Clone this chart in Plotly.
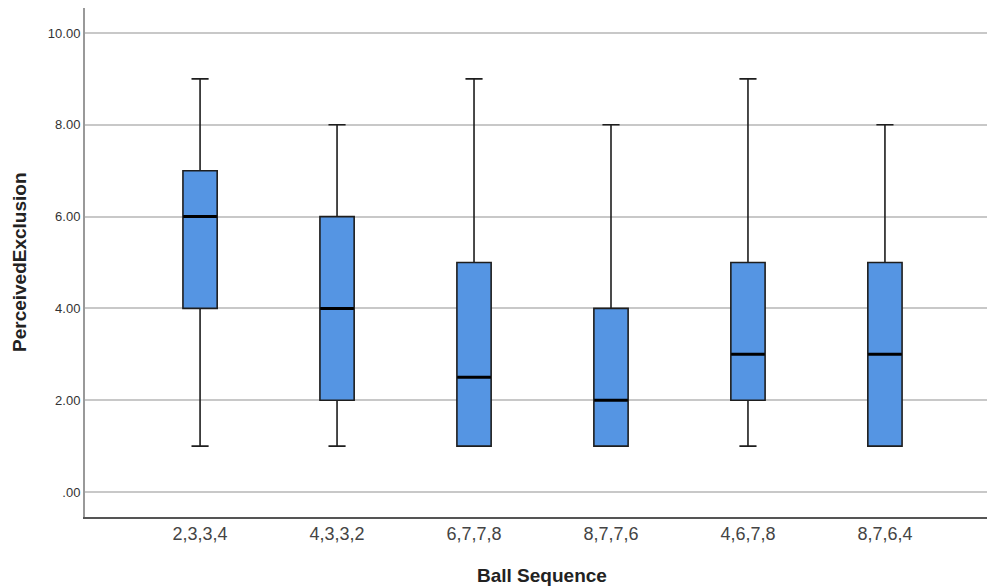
import plotly.graph_objects as go

categories = ["2,3,3,4", "4,3,3,2", "6,7,7,8", "8,7,7,6", "4,6,7,8", "8,7,6,4"]
mins = [1, 1, 1, 1, 1, 1]
q1s = [4, 2, 1, 1, 2, 1]
medians = [6, 4, 2.5, 2, 3, 3]
q3s = [7, 6, 5, 4, 5, 5]
maxs = [9, 8, 9, 8, 9, 8]
ytick_vals = [0, 2, 4, 6, 8, 10]
ytick_text = [".00", "2.00", "4.00", "6.00", "8.00", "10.00"]

fig = go.Figure()
fig.add_trace(go.Box(
    x=categories, q1=q1s, median=medians, q3=q3s,
    lowerfence=mins, upperfence=maxs,
    fillcolor="#5595e3", line=dict(color="#1e1e1e", width=1.6),
    width=0.25, whiskerwidth=0.5, boxpoints=False, showlegend=False,
    hoverinfo="skip",
))
fig.add_trace(go.Scatter(
    x=categories, y=medians, mode="markers",
    marker=dict(symbol="line-ew", size=24, line=dict(color="#000000", width=3)),
    showlegend=False, hoverinfo="skip",
))

fig.update_layout(
    width=987, height=586,
    margin=dict(l=85, r=0, t=8, b=69),
    plot_bgcolor="white", paper_bgcolor="white",
    font=dict(family="Liberation Sans, Arial, sans-serif", color="#333333"),
    xaxis=dict(
        range=[-0.84, 5.745], showgrid=False, showline=True,
        linecolor="#555555", linewidth=1.5, ticks="",
        tickfont=dict(size=18, color="#444444"), zeroline=False,
    ),
    yaxis=dict(
        range=[-0.545, 10.545], tickvals=ytick_vals, ticktext=ytick_text,
        showgrid=True, gridcolor="#c8c8c8", gridwidth=1.5,
        showline=True, linecolor="#999999", linewidth=2, ticks="",
        tickfont=dict(size=13, color="#333333"), zeroline=False,
    ),
    annotations=[
        dict(text="<b>PerceivedExclusion</b>", x=0, y=0.5, xref="paper", yref="paper",
             showarrow=False, textangle=-90, font=dict(size=19, color="#222222"),
             xanchor="center", yanchor="middle"),
        dict(text="<b>Ball Sequence</b>", x=0.5, y=0, xref="paper", yref="paper",
             showarrow=False, font=dict(size=19, color="#222222"),
             xanchor="center", yanchor="middle"),
    ],
)
# position the titles in pixels
fig.layout.annotations[0].update(x=(19 - 85) / (987 - 85), y=(517 - 262) / (517 - 8))
fig.layout.annotations[1].update(x=(542 - 85) / (987 - 85), y=-(575 - 517) / (517 - 8))

fig.write_html("out.html")
